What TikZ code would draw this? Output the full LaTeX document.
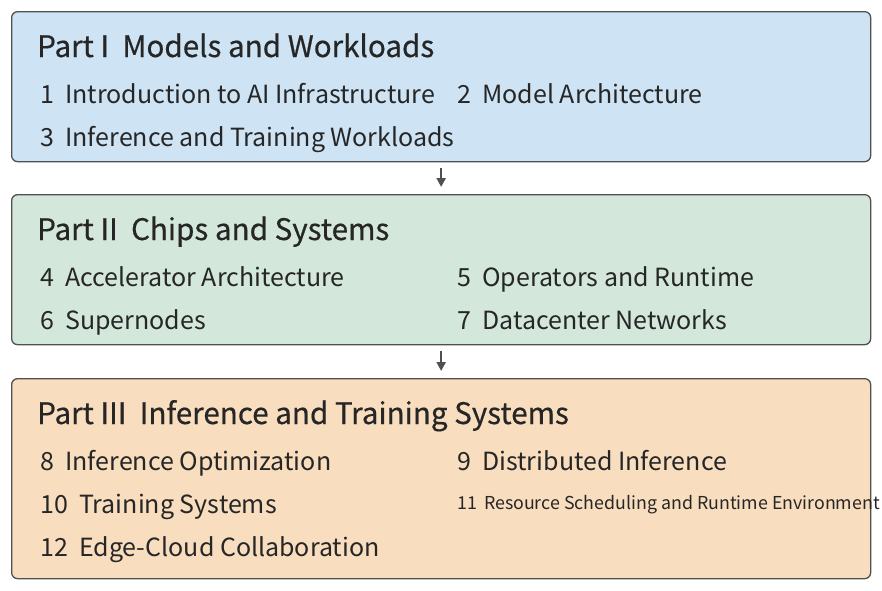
\documentclass[tikz,border=0pt]{standalone}
\usepackage{fontspec}
\setmainfont{Noto Sans CJK SC}
\newfontfamily\partfont{Noto Sans CJK SC}[FakeBold=0.5]
\usetikzlibrary{arrows.meta}
\definecolor{boxgray}{HTML}{505050}
\definecolor{textgray}{HTML}{262626}
\definecolor{partblue}{HTML}{CEE3F3}
\definecolor{partgreen}{HTML}{D3E8DB}
\definecolor{partorange}{HTML}{F8DDBF}

\begin{document}
\begin{tikzpicture}[x=1pt,y=-1pt]
            \tikzset{
              partbox/.style={draw=boxgray, line width=1.3pt, rounded corners=6pt, anchor=north west, minimum width=859pt, inner sep=0pt},
              parttitle/.style={anchor=base west, inner sep=0pt, text=textgray, font=\partfont\fontsize{29.6}{33}\selectfont},
              chap/.style={anchor=base west, inner sep=0pt, text=textgray, font=\fontsize{25}{28}\selectfont},
              smallchap/.style={chap, font=\fontsize{17.8}{20}\selectfont},
              flow/.style={-{Triangle[length=9pt,width=9pt]}, draw=boxgray, line width=2.4pt, shorten <=6pt, shorten >=7pt}
            }
            \useasboundingbox (0,0) rectangle (882,590);
            % parts
            \node[partbox, fill=partblue, minimum height=150pt] (p1) at (11,11) {};
            \node[partbox, fill=partgreen, minimum height=150pt] (p2) at (11,194) {};
            \node[partbox, fill=partorange, minimum height=200pt] (p3) at (11,378) {};
            % part I
            \node[parttitle] (t1) at (37,57) {Part I\hspace{0.45em}Models and Workloads};
            \node[chap] (c1) at (40,103) {1\hspace{0.45em}Introduction to AI Infrastructure};
            \node[chap] (c2) at (457,103) {2\hspace{0.45em}Model Architecture};
            \node[chap] (c3) at (40,146) {3\hspace{0.45em}Inference and Training Workloads};
            % part II
            \node[parttitle] (t2) at (37,240) {Part II\hspace{0.45em}Chips and Systems};
            \node[chap] (c4) at (40,286) {4\hspace{0.45em}Accelerator Architecture};
            \node[chap] (c5) at (457,286) {5\hspace{0.45em}Operators and Runtime};
            \node[chap] (c6) at (40,329) {6\hspace{0.45em}Supernodes};
            \node[chap] (c7) at (457,329) {7\hspace{0.45em}Datacenter Networks};
            % part III
            \node[parttitle] (t3) at (37,424) {Part III\hspace{0.45em}Inference and Training Systems};
            \node[chap] (c8) at (40,470) {8\hspace{0.45em}Inference Optimization};
            \node[chap] (c9) at (457,470) {9\hspace{0.45em}Distributed Inference};
            \node[chap] (c10) at (40,513) {10\hspace{0.45em}Training Systems};
            \node[smallchap] (c11) at (457,509) {11\hspace{0.4em}Resource Scheduling and Runtime Environment};
            \node[chap] (c12) at (40,556) {12\hspace{0.45em}Edge-Cloud Collaboration};
            % flow
            \draw[flow] (p1.south) -- (p2.north);
            \draw[flow] (p2.south) -- (p3.north);
        \end{tikzpicture}
\end{document}
